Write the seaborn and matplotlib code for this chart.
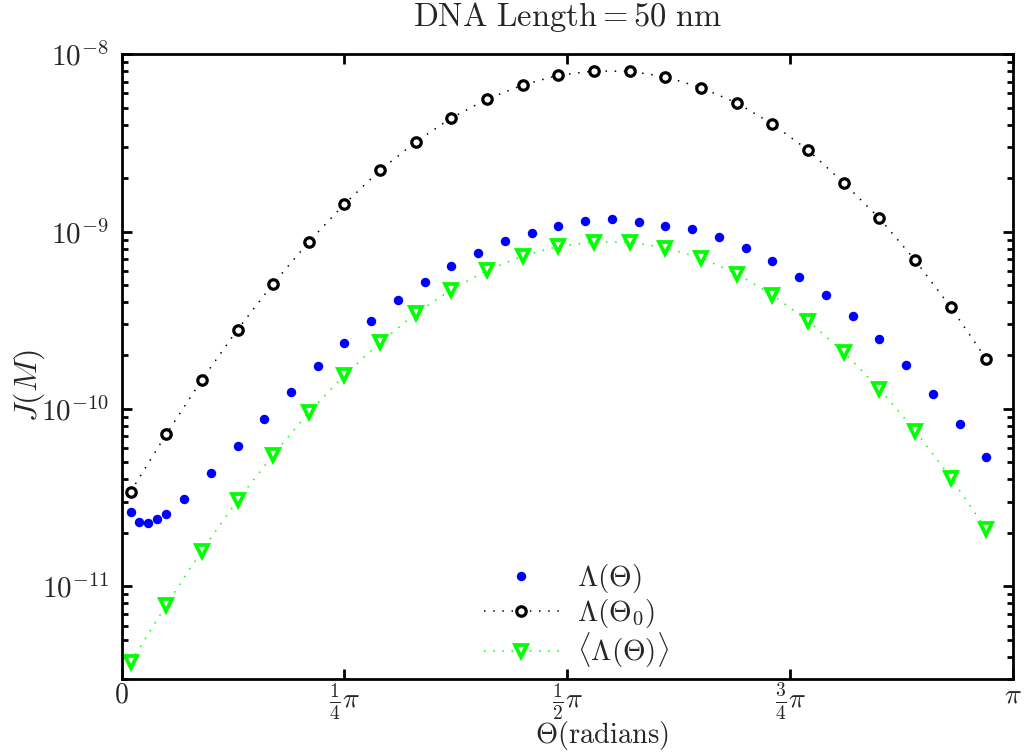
import numpy as np
import pandas as pd
import matplotlib
matplotlib.use("Agg")
import matplotlib.pyplot as plt
import seaborn as sns
from matplotlib.ticker import FixedLocator, LogLocator, NullFormatter

# ---------------- data (theta given as fraction of pi) ----------------
theta_lambda_over_pi = [0.01, 0.02, 0.03, 0.04, 0.05, 0.07, 0.10, 0.13, 0.16,
                        0.19, 0.22, 0.25, 0.28, 0.31, 0.34, 0.37, 0.40, 0.43,
                        0.46, 0.49, 0.52, 0.55, 0.58, 0.61, 0.64, 0.67, 0.70,
                        0.73, 0.76, 0.79, 0.82, 0.85, 0.88, 0.91, 0.94, 0.97]
lambda_theta = [2.62e-11, 2.29e-11, 2.28e-11, 2.38e-11, 2.57e-11, 3.10e-11,
                4.34e-11, 6.21e-11, 8.81e-11, 1.25e-10, 1.74e-10, 2.36e-10,
                3.14e-10, 4.09e-10, 5.16e-10, 6.35e-10, 7.59e-10, 8.79e-10,
                9.86e-10, 1.08e-9, 1.14e-9, 1.17e-9, 1.135e-9, 1.08e-9,
                1.03e-9, 9.29e-10, 8.09e-10, 6.84e-10, 5.56e-10, 4.39e-10,
                3.35e-10, 2.47e-10, 1.77e-10, 1.22e-10, 8.18e-11, 5.37e-11]

theta_coarse_over_pi = [0.01, 0.05, 0.09, 0.13, 0.17, 0.21, 0.25, 0.29, 0.33,
                        0.37, 0.41, 0.45, 0.49, 0.53, 0.57, 0.61, 0.65, 0.69,
                        0.73, 0.77, 0.81, 0.85, 0.89, 0.93, 0.97]
lambda_theta0 = [3.41e-11, 7.19e-11, 1.46e-10, 2.80e-10, 5.08e-10, 8.75e-10,
                 1.43e-9, 2.22e-9, 3.20e-9, 4.37e-9, 5.58e-9, 6.70e-9, 7.60e-9,
                 8.04e-9, 8.00e-9, 7.46e-9, 6.47e-9, 5.31e-9, 4.04e-9, 2.88e-9,
                 1.88e-9, 1.19e-9, 6.90e-10, 3.75e-10, 1.91e-10]
lambda_mean = [3.72e-12, 7.83e-12, 1.59e-11, 3.05e-11, 5.51e-11, 9.57e-11,
               1.55e-10, 2.37e-10, 3.45e-10, 4.71e-10, 6.03e-10, 7.29e-10,
               8.24e-10, 8.75e-10, 8.71e-10, 8.09e-10, 7.08e-10, 5.78e-10,
               4.39e-10, 3.13e-10, 2.09e-10, 1.30e-10, 7.55e-11, 4.10e-11,
               2.09e-11]

xtick_over_pi = [0, 0.25, 0.5, 0.75, 1.0]
xtick_labels = [r"$0$", r"$\frac{1}{4}\pi$", r"$\frac{1}{2}\pi$",
                r"$\frac{3}{4}\pi$", r"$\pi$"]
ytick_values = [1e-11, 1e-10, 1e-9, 1e-8]
ytick_labels = [r"$10^{-11}$", r"$10^{-10}$", r"$10^{-9}$", r"$10^{-8}$"]

labels = [r"$\Lambda(\Theta)$", r"$\Lambda(\Theta_0)$",
          r"$\langle\Lambda(\Theta)\rangle$"]

# ---------------- style ----------------
sns.set_style("ticks")
plt.rcParams["mathtext.fontset"] = "cm"
plt.rcParams["font.family"] = ["DejaVu Serif"]

FS = 21

fig = plt.figure(figsize=(10.24, 7.52), dpi=100)
ax = fig.add_axes([0.1188, 0.0971, 0.9893 - 0.1188, 0.928 - 0.0971])

df_fine = pd.DataFrame({"theta": np.array(theta_lambda_over_pi) * np.pi,
                        "J": lambda_theta})
df_coarse = pd.DataFrame({"theta": np.array(theta_coarse_over_pi) * np.pi,
                          "J0": lambda_theta0, "Jm": lambda_mean})

dotted = (0, (1, 5))

sns.lineplot(data=df_fine, x="theta", y="J", ax=ax, linestyle="none",
             marker="o", markersize=6.8, color=(0, 0, 1),
             markerfacecolor=(0, 0, 1), markeredgecolor=(0, 0, 1),
             markeredgewidth=0, label=labels[0])
sns.lineplot(data=df_coarse, x="theta", y="J0", ax=ax, linestyle=dotted,
             linewidth=1.1, color="black", marker="o", markersize=6.8,
             markerfacecolor="white", markeredgecolor="black",
             markeredgewidth=2.3, label=labels[1])
sns.lineplot(data=df_coarse, x="theta", y="Jm", ax=ax, linestyle=dotted,
             linewidth=1.1, color=(0, 1, 0), marker="v", markersize=8.5,
             markerfacecolor="white", markeredgecolor=(0, 1, 0),
             markeredgewidth=2.7, label=labels[2])

ax.set_yscale("log")
ax.set_xlim(0, np.pi)
ax.set_ylim(3e-12, 1e-8)

ax.xaxis.set_major_locator(FixedLocator(np.array(xtick_over_pi) * np.pi))
ax.set_xticklabels(xtick_labels, fontsize=20)
ax.yaxis.set_major_locator(FixedLocator(ytick_values))
ax.set_yticklabels(ytick_labels, fontsize=FS)
ax.yaxis.set_minor_locator(LogLocator(base=10, subs=np.arange(2, 10), numticks=20))
ax.yaxis.set_minor_formatter(NullFormatter())

for s in ax.spines.values():
    s.set_visible(True)
    s.set_linewidth(2.0)
    s.set_color("black")

ax.tick_params(which="both", direction="in", top=True, right=True,
               color="black", width=2.0)
ax.tick_params(which="major", length=7, pad=9)
ax.tick_params(axis="x", which="major", pad=1.5)
ax.tick_params(which="minor", length=4)
ax.tick_params(axis="x", which="minor", length=0)

ax.set_xlabel(r"$\Theta(\mathrm{radians})$", fontsize=20.5)
ax.xaxis.set_label_coords(0.539, -0.1165)
ax.xaxis.label.set_verticalalignment("bottom")

ax.set_ylabel(r"$J(M)$", fontsize=23)
ax.yaxis.set_label_coords(-0.104, 0.47)
ax.yaxis.label.set_verticalalignment("center")

ax.set_title(r"$\mathrm{DNA\ Length} = 50\ \mathrm{nm}$", fontsize=23.5, pad=20)

ax.legend(loc="lower center", frameon=False, fontsize=FS, numpoints=1,
          handlelength=2.6, handletextpad=0.6, labelspacing=0.05,
          borderaxespad=0.0, bbox_to_anchor=(0.51, -0.005))

fig.savefig("out.png", dpi=100, facecolor="white")
